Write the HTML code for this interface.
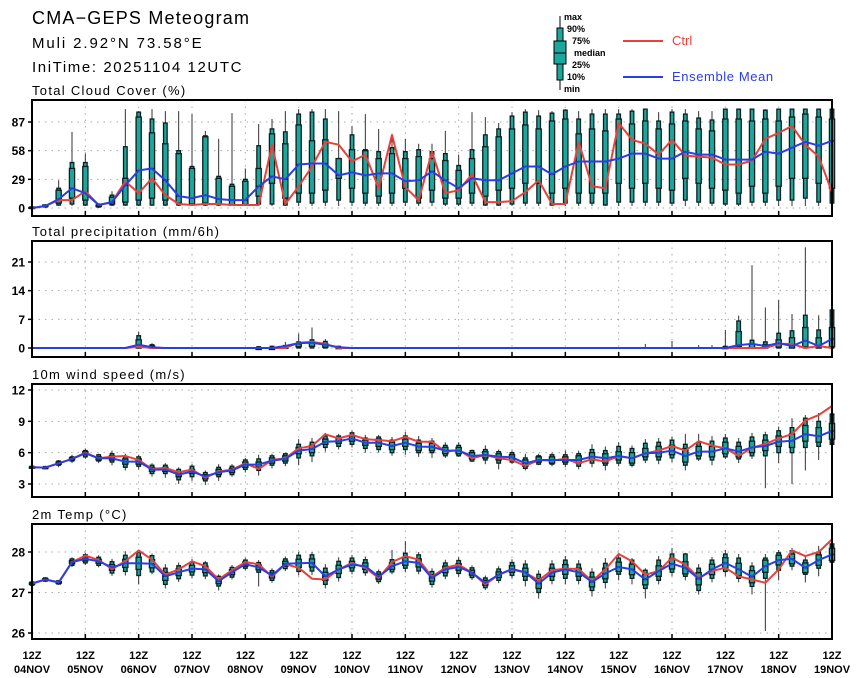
<!DOCTYPE html>
<html><head><meta charset="utf-8">
<style>
html,body{margin:0;padding:0;background:#fff;}
#wrap{position:relative;width:860px;height:678px;overflow:hidden;font-family:"Liberation Sans",sans-serif;}
svg text{font-family:"Liberation Sans",sans-serif;}
</style></head>
<body>
<div id="wrap">
<svg id="chart" width="860" height="678" viewBox="0 0 860 678">
  <text x="32" y="24" font-size="18" letter-spacing="1.2">CMA−GEPS Meteogram</text>
  <text x="32" y="48" font-size="15" letter-spacing="1.9">Muli 2.92°N 73.58°E</text>
  <text x="32" y="72" font-size="15" letter-spacing="1.6">IniTime: 20251104 12UTC</text>
  <g>
    <line x1="560" y1="16" x2="560" y2="90" stroke="#000" stroke-width="1"/>
    <rect x="557" y="28" width="6" height="52" fill="#1aa89e" stroke="#000" stroke-width="1"/>
    <rect x="554" y="41" width="12" height="23" fill="#1aa89e" stroke="#000" stroke-width="1"/>
    <line x1="554" y1="53" x2="566" y2="53" stroke="#000"/>
    <g font-size="9" font-weight="bold">
      <text x="564" y="20">max</text><text x="567" y="32">90%</text><text x="572" y="44">75%</text>
      <text x="574" y="56">median</text><text x="572" y="68">25%</text><text x="567" y="80">10%</text><text x="564" y="92">min</text>
    </g>
  </g>
  <g>
    <line x1="623" y1="41" x2="663" y2="41" stroke="#e8413c" stroke-width="2"/>
    <text x="672" y="45" font-size="13" fill="#e8413c">Ctrl</text>
  </g>
  <g>
    <line x1="623" y1="77" x2="663" y2="77" stroke="#2a3ee8" stroke-width="2"/>
    <text x="672" y="81" font-size="13" fill="#2a3ee8" letter-spacing="0.6">Ensemble Mean</text>
  </g>
  <g id="panels"></g>
</svg>
</div>
<script>
// ---------- data ----------
const dayLabels = ["04NOV","05NOV","06NOV","07NOV","08NOV","09NOV","10NOV","11NOV","12NOV","13NOV","14NOV","15NOV","16NOV","17NOV","18NOV","19NOV"];

const cloudCtrl = [0,2,8,8,17,3,6,27,15,30,13,4,3,4,4,3,3,3,64,4,22,42,67,64,47,54,20,74,21,8,57,15,18,34,6,6,7,16,28,4,4,67,22,20,86,69,65,54,69,53,52,51,44,44,48,70,76,83,64,52,16];
const cloudMean = [0,2,9,20,15,3,6,23,38,40,28,12,10,13,9,8,8,22,32,29,44,45,45,33,36,33,35,35,27,28,37,28,20,30,28,28,35,42,42,34,42,47,47,47,50,55,55,50,50,57,54,54,49,49,49,57,55,61,67,63,68];
const cloudMin = [0,0,2,2,2,0,2,2,2,2,2,2,2,2,2,2,2,2,2,2,2,2,2,2,2,2,2,2,2,2,2,2,2,2,2,2,2,2,2,2,2,2,2,2,2,2,2,2,2,2,2,2,2,2,2,2,2,2,2,2,2];
const cloudP10 = [0,1,3,4,3,1,3,3,3,3,3,3,3,3,3,3,3,4,4,3,6,5,6,8,6,5,5,5,6,5,6,4,4,5,3,3,4,5,5,3,5,5,5,3,6,6,6,6,5,8,6,5,4,4,6,6,8,8,10,6,5];
const cloudP25 = [0,2,5,10,8,2,4,6,8,10,8,5,4,5,4,3,3,12,25,10,15,15,18,30,20,15,12,15,20,10,18,10,10,15,12,18,20,25,25,15,20,15,15,15,25,20,25,20,18,30,25,20,18,15,22,15,22,30,30,25,20];
const cloudP75 = [1,3,18,40,42,3,11,30,92,76,65,55,40,72,30,22,27,40,75,65,84,68,69,50,59,58,50,55,50,52,50,48,38,50,62,72,80,84,80,88,90,75,80,78,90,85,88,80,85,88,80,78,90,90,88,90,88,92,95,92,90];
const cloudP90 = [1,3,20,46,46,4,13,62,97,90,86,58,42,73,32,24,29,63,80,77,95,97,90,50,74,59,57,61,57,59,57,55,43,59,74,80,93,97,93,96,99,90,95,95,95,98,100,88,97,95,91,89,100,100,100,99,100,100,100,100,100];
const cloudMax = [1,4,28,77,55,5,17,100,98,100,98,98,95,78,70,96,40,85,90,98,100,100,100,98,83,95,80,70,70,65,65,78,54,97,92,86,97,100,99,98,100,98,100,100,100,100,100,97,100,100,98,98,100,100,100,100,100,100,100,100,100];

const precCtrl = [0,0,0,0,0,0,0,0,0.3,0, 0,0,0,0,0,0,0,0,0,0, 1.3,1.5,1.0,0,0,0,0,0,0,0, 0,0,0,0,0,0,0,0,0,0, 0,0,0,0,0,0,0,0,0,0, 0,0,0,0,0,0,1,1,0,0.5, 0];
const precMean = [0,0,0,0,0,0,0,0,0.8,0.2, 0,0,0,0,0,0,0,0,0,0.5, 1.2,1.3,0.8,0.2,0,0,0,0,0,0, 0,0,0,0,0,0,0,0,0,0, 0,0,0,0,0,0,0,0,0,0, 0,0,0,0.7,1,0.5,1.2,0.5,1.8,0.5, 2.2];
const precMin = [0,0,0,0,0,0,0,0,0,0, 0,0,0,0,0,0,0,0,0,0, 0,0,0,0,0,0,0,0,0,0, 0,0,0,0,0,0,0,0,0,0, 0,0,0,0,0,0,0,0,0,0, 0,0,0,0,0,0,0,0,0,0, 0];
const precP10 = precMin;
const precP25 = [0,0,0,0,0,0,0,0,0,0, 0,0,0,0,0,0,0,0,0,0, 0.3,0.4,0.2,0,0,0,0,0,0,0, 0,0,0,0,0,0,0,0,0,0, 0,0,0,0,0,0,0,0,0,0, 0,0,0,0.3,0,0,0.2,0,0.3,0, 0.3];
const precP75 = [0,0,0,0,0,0,0,0,2,0.5, 0,0,0,0,0,0,0,0,0,0.3, 1.0,1.3,1.0,0.2,0,0,0,0,0,0, 0,0,0,0,0,0,0,0,0,0, 0,0,0,0,0,0,0,0,0,0, 0,0,0.2,4,1,0.8,2,2.5,5,2.5, 5];
const precP90 = [0,0,0,0,0,0,0,0,3,0.8, 0,0,0,0,0,0,0,0.3,0.4,0.6, 1.5,2.0,1.6,0.4,0,0,0,0,0,0, 0,0,0,0,0,0,0,0,0,0, 0,0,0,0,0,0,0,0,0,0, 0,0,0.4,6.6,1.9,1.5,3.6,4.2,8,4.4, 9.3];
const precMax = [0,0,0,0,0,0,0,0,4,1.2, 0,0,0,0,0,0,0,0.5,0.6,1.5, 3.5,5,2.2,0.6,0,0,0,0,0,0, 0,0,0,0,0,0,0,0,0,0, 0,0,0,0,0,0,1,0,1.7,0, 0.7,0.7,4.4,7.9,20.2,9.9,11.7,8.3,24.6,8, 12];

const windCtrl = [4.6,4.57,4.98,5.4,6.0,5.46,5.62,5.68,5.3,4.45,4.54,4.13,4.38,3.6,4.2,4.38,4.98,4.45,5.3,5.46,6.42,6.64,7.76,7.37,7.7,7.3,7.2,7.1,7.5,7.05,7.05,6.1,6.26,5.46,5.78,5.46,5.3,4.72,5.3,5.24,5.4,4.98,5.37,5.14,5.68,5.46,5.94,6.2,6.64,6.2,7.1,6.68,6.42,5.68,6.48,6.83,7.37,7.78,9.07,9.6,10.47];
const windMean = [4.6,4.57,4.98,5.4,5.94,5.46,5.46,5.14,5.14,4.38,4.38,3.9,4.2,3.73,4.13,4.3,4.86,4.86,5.24,5.4,6.2,6.35,7.05,7.1,7.37,6.95,6.95,6.64,6.95,6.58,6.55,6.2,6.2,5.68,5.78,5.62,5.56,4.98,5.3,5.3,5.3,5.3,5.62,5.46,5.68,5.46,5.94,6.0,6.2,5.68,6.1,6.1,6.42,6.1,6.5,6.64,7.05,7.14,7.78,7.57,8.08];
const windMin = [4.4,4.4,4.6,5.0,5.4,5.0,4.8,4.3,4.4,3.7,3.6,3.0,3.3,2.9,3.3,3.7,4.1,3.8,4.5,4.7,4.8,5.1,6.1,6.3,6.5,6.0,6.0,5.7,5.8,5.6,5.5,5.5,5.6,5.1,4.9,4.4,4.9,4.3,4.8,4.7,4.6,4.4,4.6,4.3,4.7,4.6,5.0,4.9,5.1,4.3,5.2,4.8,5.4,5.0,5.4,2.6,5.0,3.0,4.3,5.3,5.5];
const windP10 = [4.5,4.47,4.8,5.2,5.6,5.2,5.1,4.6,4.7,4.0,4.0,3.4,3.7,3.3,3.7,3.9,4.4,4.3,4.8,5.0,5.5,5.7,6.5,6.6,6.8,6.4,6.3,6.0,6.3,6.0,6.0,5.7,5.7,5.2,5.3,5.0,5.1,4.5,4.9,4.9,4.9,4.7,5.0,4.8,5.0,4.8,5.3,5.3,5.5,4.8,5.4,5.3,5.6,5.4,5.7,5.7,6.0,6.0,6.5,6.6,6.8];
const windP25 = [4.55,4.52,4.9,5.3,5.8,5.3,5.3,4.9,4.9,4.2,4.2,3.7,4.0,3.5,3.9,4.1,4.6,4.6,5.0,5.2,5.9,6.0,6.8,6.9,7.1,6.7,6.6,6.3,6.6,6.2,6.2,5.9,5.9,5.4,5.5,5.3,5.3,4.7,5.1,5.0,5.1,5.0,5.3,5.0,5.3,5.0,5.6,5.6,5.8,5.1,5.7,5.6,5.9,5.6,6.0,6.2,6.6,6.5,7.1,7.0,7.3];
const windP75 = [4.65,4.62,5.1,5.5,6.1,5.6,5.7,5.4,5.4,4.6,4.6,4.1,4.4,3.9,4.4,4.5,5.1,5.1,5.5,5.7,6.5,6.7,7.3,7.4,7.6,7.2,7.3,7.0,7.3,6.9,6.9,6.5,6.5,6.0,6.1,5.9,5.8,5.3,5.6,5.6,5.6,5.7,6.0,5.9,6.1,6.0,6.4,6.6,6.7,6.4,6.6,6.6,7.0,6.6,7.1,7.2,7.6,7.8,8.6,8.4,8.8];
const windP90 = [4.7,4.67,5.2,5.6,6.2,5.8,5.9,5.6,5.6,4.8,4.8,4.4,4.7,4.1,4.6,4.7,5.3,5.4,5.7,5.9,6.8,7.0,7.6,7.6,7.9,7.4,7.5,7.2,7.6,7.2,7.1,6.7,6.7,6.2,6.3,6.1,6.0,5.5,5.7,5.8,5.8,5.9,6.3,6.2,6.6,6.4,6.9,7.0,7.2,6.8,7.0,7.1,7.4,7.0,7.5,7.7,8.1,8.4,9.3,9.0,9.7];
const windMax = [4.8,4.75,5.3,5.8,6.4,5.9,6.2,5.9,5.8,5.0,5.0,4.6,4.9,4.3,4.9,4.9,5.5,5.8,5.9,6.0,7.3,7.4,7.9,7.8,8.1,7.7,7.7,7.5,8.0,7.6,7.4,7.0,7.0,6.3,6.7,6.3,6.2,5.9,5.9,6.0,6.2,6.2,6.8,6.6,7.0,6.7,7.3,7.4,7.5,7.8,7.8,7.6,7.8,7.4,7.9,8.0,8.5,9.3,9.6,9.8,10.5];

const tempCtrl = [27.22,27.32,27.25,27.75,27.91,27.8,27.58,27.77,28.04,27.81,27.44,27.57,27.77,27.65,27.32,27.55,27.75,27.7,27.39,27.7,27.61,27.34,27.32,27.57,27.73,27.61,27.36,27.75,27.9,27.81,27.39,27.61,27.69,27.49,27.2,27.44,27.57,27.49,27.3,27.55,27.59,27.58,27.28,27.57,27.95,27.77,27.44,27.53,27.86,27.69,27.36,27.53,27.61,27.4,27.32,27.24,27.57,28.04,27.9,28.0,28.31];
const tempMean = [27.22,27.32,27.25,27.75,27.83,27.77,27.62,27.72,27.72,27.71,27.40,27.5,27.59,27.57,27.28,27.5,27.7,27.62,27.42,27.71,27.72,27.73,27.40,27.57,27.69,27.65,27.39,27.65,27.77,27.73,27.36,27.57,27.63,27.49,27.24,27.44,27.58,27.5,27.22,27.49,27.57,27.5,27.26,27.47,27.63,27.57,27.32,27.53,27.71,27.61,27.34,27.57,27.73,27.57,27.39,27.65,27.8,27.83,27.61,27.8,27.94];
const tempMin = [27.16,27.26,27.19,27.63,27.68,27.62,27.41,27.42,27.2,27.45,27.1,27.26,27.35,27.33,27.05,27.32,27.55,27.15,27.24,27.53,27.42,27.43,27.1,27.27,27.45,27.41,27.21,27.45,27.5,27.45,27.12,27.33,27.39,27.31,27.06,27.23,27.34,27.15,26.85,27.2,27.2,27.2,26.9,27.1,27.3,27.2,26.85,27.2,27.4,27.3,26.95,27.25,27.4,27.25,26.95,26.05,27.3,27.55,27.25,27.4,27.6];
const tempP10 = [27.18,27.28,27.21,27.67,27.73,27.67,27.48,27.52,27.42,27.51,27.2,27.34,27.43,27.41,27.16,27.38,27.6,27.5,27.3,27.59,27.52,27.53,27.2,27.37,27.53,27.49,27.27,27.51,27.6,27.53,27.2,27.41,27.47,27.37,27.12,27.3,27.42,27.3,27.0,27.3,27.35,27.3,27.05,27.25,27.45,27.35,27.1,27.3,27.5,27.4,27.05,27.35,27.52,27.35,27.15,27.35,27.55,27.65,27.45,27.6,27.75];
const tempP25 = [27.2,27.3,27.23,27.71,27.78,27.72,27.55,27.62,27.57,27.61,27.3,27.42,27.51,27.49,27.22,27.44,27.65,27.56,27.36,27.65,27.62,27.63,27.3,27.47,27.61,27.57,27.33,27.57,27.67,27.63,27.28,27.49,27.55,27.43,27.18,27.37,27.5,27.4,27.1,27.4,27.45,27.4,27.14,27.34,27.52,27.44,27.19,27.4,27.58,27.46,27.19,27.44,27.6,27.42,27.24,27.5,27.68,27.71,27.49,27.67,27.79];
const tempP75 = [27.24,27.34,27.27,27.79,27.88,27.82,27.69,27.82,27.87,27.81,27.5,27.58,27.67,27.65,27.34,27.56,27.75,27.68,27.48,27.77,27.82,27.83,27.5,27.67,27.77,27.73,27.45,27.73,27.87,27.83,27.44,27.65,27.71,27.55,27.3,27.51,27.66,27.6,27.34,27.6,27.69,27.6,27.38,27.6,27.75,27.7,27.45,27.66,27.84,27.76,27.49,27.7,27.86,27.72,27.54,27.8,27.92,27.95,27.73,27.93,28.09];
const tempP90 = [27.26,27.36,27.29,27.83,27.93,27.87,27.76,27.92,28.0,27.91,27.6,27.66,27.75,27.73,27.4,27.62,27.8,27.74,27.54,27.83,27.92,27.93,27.6,27.77,27.85,27.81,27.51,27.81,27.97,27.93,27.52,27.73,27.79,27.61,27.36,27.58,27.74,27.7,27.45,27.7,27.8,27.7,27.5,27.72,27.85,27.8,27.55,27.8,27.95,27.95,27.6,27.8,27.95,27.85,27.65,27.85,27.98,28.03,27.8,28.0,28.2];
const tempMax = [27.28,27.38,27.31,27.87,27.98,27.92,27.83,28.02,28.05,27.96,27.7,27.74,27.83,27.78,27.45,27.68,27.85,27.8,27.6,27.89,28.0,28.0,27.7,27.87,27.93,27.89,27.57,28.05,28.27,28.0,27.6,27.81,27.87,27.67,27.42,27.65,27.82,27.8,27.55,27.8,27.9,27.8,27.6,27.85,27.98,27.85,27.6,27.9,28.1,27.98,27.7,27.88,28.05,27.95,27.75,27.95,28.05,28.1,27.9,28.15,28.3];

const cloudTicks = [0,29,58,87];
const precTicks = [0,7,14,21];
const windTicks = [3,6,9,12];
const tempTicks = [26,27,28];

// ---------- layout ----------
const X0 = 32, X1 = 832, NSTEP = 60;
const ns = "http://www.w3.org/2000/svg";
const root = document.getElementById('panels');
function xAt(i){ return X0 + (X1 - X0) * i / NSTEP; }
function mk(tag, attrs, parent){
  const e = document.createElementNS(ns, tag);
  for (const k in attrs) e.setAttribute(k, attrs[k]);
  (parent || root).appendChild(e);
  return e;
}

const panels = [
  {name:'cloud-cover', title:'Total Cloud Cover (%)', top:100, bottom:216, v0:0, y0:208, v1:87, y1:122, ticks:cloudTicks,
   ctrl:cloudCtrl, mean:cloudMean, mn:cloudMin, p10:cloudP10, p25:cloudP25, p75:cloudP75, p90:cloudP90, mx:cloudMax},
  {name:'precipitation', title:'Total precipitation (mm/6h)', top:241, bottom:357, v0:0, y0:348, v1:21, y1:262, ticks:precTicks,
   ctrl:precCtrl, mean:precMean, mn:precMin, p10:precP10, p25:precP25, p75:precP75, p90:precP90, mx:precMax},
  {name:'wind-speed', title:'10m wind speed (m/s)', top:384, bottom:497, v0:3, y0:484, v1:12, y1:390, ticks:windTicks,
   ctrl:windCtrl, mean:windMean, mn:windMin, p10:windP10, p25:windP25, p75:windP75, p90:windP90, mx:windMax},
  {name:'temperature', title:'2m Temp (°C)', top:524, bottom:639, v0:26, y0:633, v1:28, y1:552, ticks:tempTicks,
   ctrl:tempCtrl, mean:tempMean, mn:tempMin, p10:tempP10, p25:tempP25, p75:tempP75, p90:tempP90, mx:tempMax}
];

panels.forEach(function(p){
  const yAt = function(v){ return p.y0 + (v - p.v0) * (p.y1 - p.y0) / (p.v1 - p.v0); };
  const g = mk('g', {});
  
  

  const t = mk('text', {x:X0, y:p.top - 5, 'font-size':13, 'letter-spacing':1.3}, g);
  t.textContent = p.title;
  
  

  // grid
  for (let d = 1; d < 15; d++){
    const gl = mk('line', {x1:xAt(d*4), x2:xAt(d*4), y1:p.top, y2:p.bottom, stroke:'#aaa', 'stroke-width':1, 'stroke-dasharray':'1.5,5'}, g);
    
    
  }
  p.ticks.forEach(function(tv){
    const yy = yAt(tv);
    const hl = mk('line', {x1:X0, x2:X1, y1:yy, y2:yy, stroke:'#aaa', 'stroke-width':1, 'stroke-dasharray':'1.5,5'}, g);
    
    
    const tk = mk('line', {x1:X0-4, x2:X0, y1:yy, y2:yy, stroke:'#000', 'stroke-width':1.5}, g);
    
    
    const lb = mk('text', {x:X0-7, y:yy+4.5, 'font-size':12, 'font-weight':'bold', 'text-anchor':'end'}, g);
    lb.textContent = String(tv);
    
    
  });
  for (let d = 1; d < 15; d++){
    const bt = mk('line', {x1:xAt(d*4), x2:xAt(d*4), y1:p.bottom-5, y2:p.bottom, stroke:'#000', 'stroke-width':1.5}, g);
    
    
  }

  // boxes
  for (let i = 0; i < p.mean.length; i++){
    const x = xAt(i);
    const bg = mk('g', {}, g);
    
    
    if (p.mx[i] > p.mn[i]) {
      mk('line', {x1:x, x2:x, y1:yAt(p.mn[i]), y2:yAt(p.mx[i]), stroke:'#333', 'stroke-width':1}, bg);
    }
    if (p.p90[i] > p.p10[i]) {
      const h1 = Math.max(1.5, yAt(p.p10[i]) - yAt(p.p90[i]));
      mk('rect', {x:x-1.8, y:yAt(p.p90[i]), width:3.6, height:h1, fill:'#1aa89e', stroke:'#0a1f1f', 'stroke-width':1.3}, bg);
      const h2 = Math.max(1.5, yAt(p.p25[i]) - yAt(p.p75[i]));
      mk('rect', {x:x-2.6, y:yAt(p.p75[i]), width:5.2, height:h2, fill:'#1aa89e', stroke:'#0a1f1f', 'stroke-width':1.3}, bg);
      const md = Math.min(p.p75[i], Math.max(p.p25[i], p.mean[i]));
      mk('line', {x1:x-2.6, x2:x+2.6, y1:yAt(md), y2:yAt(md), stroke:'#0a1f1f', 'stroke-width':1.2}, bg);
    }
  }

  // lines
  const ctrlPts = p.ctrl.map(function(v,i){ return xAt(i).toFixed(1)+','+yAt(v).toFixed(1); }).join(' ');
  const cl = mk('polyline', {points:ctrlPts, fill:'none', stroke:'#e8413c', 'stroke-width':2, 'stroke-linejoin':'round'}, g);
  
  
  const meanPts = p.mean.map(function(v,i){ return xAt(i).toFixed(1)+','+yAt(v).toFixed(1); }).join(' ');
  const ml = mk('polyline', {points:meanPts, fill:'none', stroke:'#2a3ee8', 'stroke-width':2, 'stroke-linejoin':'round'}, g);
  
  

  // frame
  const fr = mk('rect', {x:X0, y:p.top, width:X1-X0, height:p.bottom-p.top, fill:'none', stroke:'#000', 'stroke-width':2}, g);
  
  
});

// x-axis labels
dayLabels.forEach(function(lbl, d){
  const x = xAt(d*4);
  const g = mk('g', {});
  
  
  const a = mk('text', {x:x, y:659, 'font-size':11, 'font-weight':'bold', 'text-anchor':'middle'}, g);
  a.textContent = '12Z';
  const b = mk('text', {x:x, y:673, 'font-size':11, 'font-weight':'bold', 'text-anchor':'middle'}, g);
  b.textContent = lbl;
});
</script>
</body></html>
